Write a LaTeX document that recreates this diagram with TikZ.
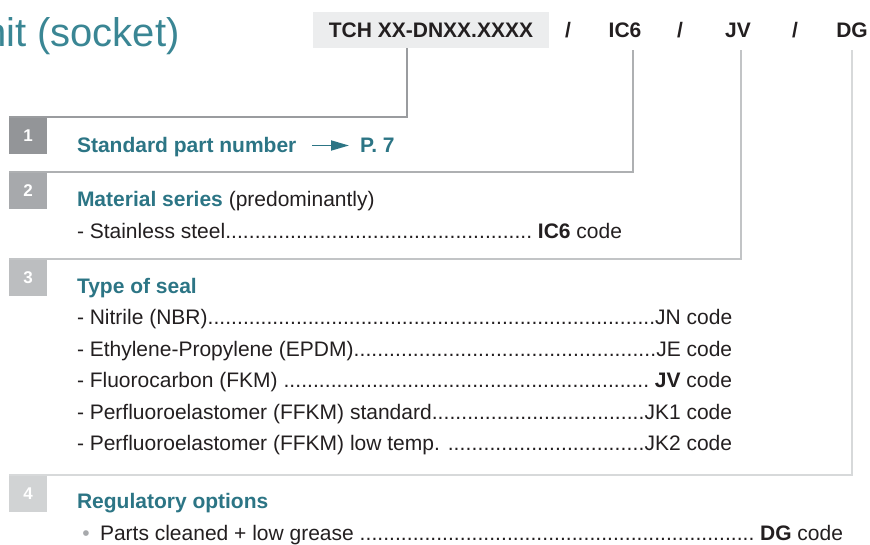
\documentclass[tikz,border=0pt]{standalone}
\usepackage{fontspec}
\setmainfont{Liberation Sans}
\usetikzlibrary{arrows.meta}
\definecolor{tealh}{HTML}{2C7585}
\definecolor{tealt}{HTML}{3A8694}
\definecolor{ink}{HTML}{231F20}
\definecolor{codebg}{HTML}{ECEDEE}
\definecolor{boxa}{HTML}{939598}
\definecolor{boxb}{HTML}{A7A9AC}
\definecolor{boxc}{HTML}{BCBEC0}
\definecolor{boxd}{HTML}{D1D3D4}
\definecolor{linea}{HTML}{9A9C9F}
\definecolor{lineb}{HTML}{AEB0B2}
\definecolor{linec}{HTML}{C2C4C6}
\definecolor{lined}{HTML}{D7D9DA}
\definecolor{bulletgray}{HTML}{A7A9AC}
\newcommand\myleader[3]{\hbox to #1{#2\xleaders\hbox{.}\hfill#3}}
\begin{document}
\begin{tikzpicture}[x=1pt,y=-1pt,
  every node/.style={inner sep=0pt, outer sep=0pt, font=\fontsize{21}{25}\selectfont, text=ink},
  numbox/.style={minimum width=38pt, minimum height=37pt, text=white, font=\bfseries\fontsize{17}{20}\selectfont},
  head/.style={anchor=base west, text=tealh, font=\bfseries\fontsize{21}{25}\selectfont},
  item/.style={anchor=base west},
  codetxt/.style={anchor=base, font=\bfseries\fontsize{21}{25}\selectfont},
  conn/.style={line width=2pt}]
\useasboundingbox (0,0) rectangle (870,544);
\clip (0,0) rectangle (870,544);
% title
\node[anchor=base west, text=tealt, font=\fontsize{40}{45}\selectfont] (title) at (-16,46) {nit (socket)};
% code header
\node[fill=codebg, minimum width=236pt, minimum height=36pt, font=\bfseries\fontsize{21}{25}\selectfont] (code) at (431,30) {TCH XX-DNXX.XXXX};
\node[codetxt] (sl1) at (568,37) {/};
\node[codetxt] (ic6) at (625,37) {IC6};
\node[codetxt] (sl2) at (680,37) {/};
\node[codetxt] (jv) at (738,37) {JV};
\node[codetxt] (sl3) at (795,37) {/};
\node[codetxt] (dg) at (852,37) {DG};
% number boxes
\node[numbox, fill=boxa] (n1) at (28,135.5) {1};
\node[numbox, fill=boxb] (n2) at (28,190.5) {2};
\node[numbox, fill=boxc] (n3) at (28,277.5) {3};
\node[numbox, fill=boxd] (n4) at (28,493.5) {4};
% connectors
\coordinate (t1) at (407,0);
\coordinate (t2) at (633,0);
\coordinate (t3) at (741,0);
\coordinate (t4) at (852,0);
\draw[conn, draw=linea] (t1 |- code.south) |- (n1.north west);
\draw[conn, draw=lineb] (t2 |- code.south) ++(0,2) |- (n2.north west);
\draw[conn, draw=linec] (t3 |- code.south) ++(0,2) |- (n3.north west);
\draw[conn, draw=lined] (t4 |- code.south) ++(0,2) |- (n4.north west);
% section 1
\node[head] (std) at (77,152) {Standard part number};
\node[head] (p7) at (360,152) {P. 7};
\draw[tealh, line width=1.8pt, -{Triangle[length=18pt,width=10pt]}] (312,145.5) -- (349,145.5);
% section 2
\node[head] (mat) at (77,206) {Material series \mdseries\color{ink}(predominantly)};
\node[item] (ss) at (77,238) {\myleader{545pt}{- Stainless steel}{ \textbf{IC6} code}};
% section 3
\node[head] (seal) at (77,293) {Type of seal};
\node[item] (jn) at (77,324) {\myleader{655pt}{- Nitrile (NBR)}{JN code}};
\node[item] (je) at (77,356) {\myleader{655pt}{- Ethylene-Propylene (EPDM)}{JE code}};
\node[item] (jvi) at (77,387) {\myleader{655pt}{- Fluorocarbon (FKM) }{ \textbf{JV} code}};
\node[item] (jk1) at (77,419) {\myleader{655pt}{- Perfluoroelastomer (FFKM) standard}{JK1 code}};
\node[item] (jk2) at (77,450) {\myleader{655pt}{- Perfluoroelastomer (FFKM) low temp. }{JK2 code}};
% section 4
\node[head] (reg) at (77,508) {Regulatory options};
\node[anchor=base, text=bulletgray] (bul) at (86,540) {\textbullet};
\node[item] (dgi) at (100,540) {\myleader{743pt}{Parts cleaned + low grease }{ \textbf{DG} code}};
\end{tikzpicture}
\end{document}
